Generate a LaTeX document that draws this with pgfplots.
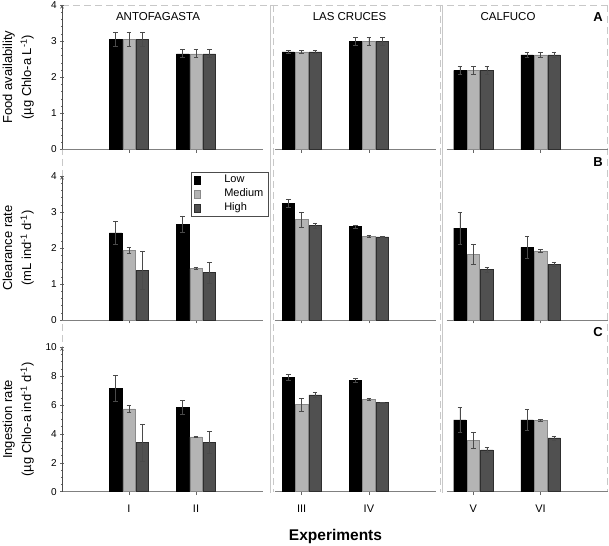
\documentclass[border=0pt]{standalone}
\usepackage{fontspec}
\setmainfont{Liberation Sans}
\usepackage{pgfplots}
\pgfplotsset{compat=1.18}
\definecolor{medc}{HTML}{B4B4B4}
\definecolor{medd}{HTML}{8A8A8A}
\definecolor{highc}{HTML}{505050}
\definecolor{highd}{HTML}{2E2E2E}
\definecolor{errc}{HTML}{4A4A4A}
\definecolor{framec}{HTML}{C8C8C8}
\pgfplotsset{
  base/.style={scale only axis, anchor=south west, axis x line=bottom, axis line style={-},
    x axis line style={black!50, line width=0.6pt},
    xtick={1,2}, xticklabels={}, tick align=outside, major tick length=3.5pt, minor tick length=2pt,
    tick style={black!60, line width=0.5pt},
    /pgf/number format/assume math mode=true,
    tick label style={font=\fontsize{10}{12}\selectfont},
    xticklabel style={font=\fontsize{11}{13}\selectfont, yshift=-6pt},
    clip=false,
    ylabel style={at={(rel axis cs:-0.139,0.5)}, anchor=south, inner sep=0pt, align=center, font=\fontsize{13}{19}\selectfont},
  },
  col1/.style={base, at={(62pt,#1)}, width=201pt, xmin=0, xmax=3, axis y line=left, y axis line style={black!70, line width=0.6pt}},
  col2/.style={base, at={(274.8pt,#1)}, width=161.3pt, xmin=0.6, xmax=3, axis y line=none},
  col3/.style={base, at={(446.5pt,#1)}, width=161.3pt, xmin=0.6, xmax=3, axis y line=none},
  rowA/.style={height=144.5pt, ymin=0, ymax=4, ytick={0,1,2,3,4}, minor y tick num=4},
  rowB/.style={height=144pt, ymin=0, ymax=4, ytick={0,1,2,3,4}, minor y tick num=4},
  rowC/.style={height=144.4pt, ymin=0, ymax=10, ytick={0,2,4,6,8,10}, minor y tick num=3},
  barbase/.style={ybar, bar width=0.185, bar shift=0pt, line width=0.4pt},
  lowbar/.style={barbase, fill=black, draw=black},
  medbar/.style={barbase, fill=medc, draw=medd},
  highbar/.style={barbase, fill=highc, draw=highd},
  errs/.style={error bars/.cd, y dir=both, y explicit,
    error bar style={errc, line width=0.6pt},
    error mark options={rotate=90, mark size=2.3pt, errc, line width=0.6pt}},
}
\begin{document}
\begin{tikzpicture}
\path[use as bounding box] (0,0) rectangle (609pt,545pt);
\begin{scope}[framec, line width=0.8pt, dash pattern=on 7pt off 4pt]
 \draw (62pt,540pt) -- (607pt,540pt);
 \draw (607pt,540pt) -- (607pt,53.3pt);
 \draw (273pt,540pt) -- (273pt,53.3pt);
 \draw (440pt,540pt) -- (440pt,53.3pt);
 \draw (62pt,540pt) -- (62pt,53.3pt);
\end{scope}
\draw[framec, line width=0.8pt] (270.7pt,540pt) -- (270.7pt,52pt);
\draw[framec, line width=0.8pt] (442.7pt,540pt) -- (442.7pt,52pt);

% ---------------- Row A: food availability
\begin{axis}[col1=395.5pt, rowA, ylabel={Food availability\\(µg Chlo-a L\textsuperscript{-1})}]
\addplot[lowbar, errs] coordinates {(0.8,3.05) +- (0,0.19) (1.8,2.65) +- (0,0.11)};
\addplot[medbar, errs] coordinates {(1,3.05) +- (0,0.19) (2,2.65) +- (0,0.11)};
\addplot[highbar, errs] coordinates {(1.2,3.05) +- (0,0.19) (2.2,2.65) +- (0,0.11)};
\end{axis}
\begin{axis}[col2=395.5pt, rowA]
\addplot[lowbar, errs] coordinates {(0.8,2.70) +- (0,0.04) (1.8,3.00) +- (0,0.11)};
\addplot[medbar, errs] coordinates {(1,2.70) +- (0,0.04) (2,3.00) +- (0,0.11)};
\addplot[highbar, errs] coordinates {(1.2,2.70) +- (0,0.04) (2.2,3.00) +- (0,0.11)};
\end{axis}
\begin{axis}[col3=395.5pt, rowA]
\addplot[lowbar, errs] coordinates {(0.8,2.19) +- (0,0.11) (1.8,2.62) +- (0,0.08)};
\addplot[medbar, errs] coordinates {(1,2.19) +- (0,0.11) (2,2.62) +- (0,0.08)};
\addplot[highbar, errs] coordinates {(1.2,2.19) +- (0,0.11) (2.2,2.62) +- (0,0.08)};
\end{axis}

% ---------------- Row B: clearance rate
\begin{axis}[col1=225pt, rowB, ylabel={Clearance rate\\(mL ind\textsuperscript{-1} d\textsuperscript{-1})},
  legend style={at={(0.64,1.03)}, anchor=north west, draw=black!70, line width=0.5pt,
    font=\fontsize{11}{12}\selectfont, inner xsep=3pt, inner ysep=1.5pt, row sep=0.5pt,
    /tikz/every odd column/.append style={column sep=22pt}},
  legend cell align=left,
  legend image code/.code={\draw[#1] (0pt,-4pt) rectangle (6pt,4pt);}]
\addplot[lowbar, errs] coordinates {(0.8,2.42) +- (0,0.31) (1.8,2.66) +- (0,0.23)};
\addlegendentry{Low}
\addplot[medbar, errs] coordinates {(1,1.94) +- (0,0.08) (2,1.43) +- (0,0.02)};
\addlegendentry{Medium}
\addplot[highbar, errs] coordinates {(1.2,1.38) +- (0,0.53) (2.2,1.32) +- (0,0.29)};
\addlegendentry{High}
\end{axis}
\begin{axis}[col2=225pt, rowB]
\addplot[lowbar, errs] coordinates {(0.8,3.24) +- (0,0.10) (1.8,2.60) +- (0,0.04)};
\addplot[medbar, errs] coordinates {(1,2.79) +- (0,0.21) (2,2.33) +- (0,0.03)};
\addplot[highbar, errs] coordinates {(1.2,2.62) +- (0,0.07) (2.2,2.31) +- (0,0.01)};
\end{axis}
\begin{axis}[col3=225pt, rowB]
\addplot[lowbar, errs] coordinates {(0.8,2.55) +- (0,0.45) (1.8,2.02) +- (0,0.30)};
\addplot[medbar, errs] coordinates {(1,1.82) +- (0,0.27) (2,1.92) +- (0,0.03)};
\addplot[highbar, errs] coordinates {(1.2,1.40) +- (0,0.07) (2.2,1.55) +- (0,0.06)};
\end{axis}

% ---------------- Row C: ingestion rate
\begin{axis}[col1=53.3pt, rowC, xticklabels={I,II}, ylabel={Ingestion rate\\(µg Chlo-a ind\textsuperscript{-1} d\textsuperscript{-1})}]
\addplot[lowbar, errs] coordinates {(0.8,7.16) +- (0,0.92) (1.8,5.84) +- (0,0.49)};
\addplot[medbar, errs] coordinates {(1,5.73) +- (0,0.25) (2,3.80) +- (0,0.03)};
\addplot[highbar, errs] coordinates {(1.2,3.40) +- (0,1.30) (2.2,3.42) +- (0,0.75)};
\end{axis}
\begin{axis}[col2=53.3pt, rowC, xticklabels={III,IV}]
\addplot[lowbar, errs] coordinates {(0.8,7.92) +- (0,0.23) (1.8,7.71) +- (0,0.14)};
\addplot[medbar, errs] coordinates {(1,6.03) +- (0,0.44) (2,6.40) +- (0,0.08)};
\addplot[highbar, errs] coordinates {(1.2,6.70) +- (0,0.18) (2.2,6.17) +- (0,0.02)};
\end{axis}
\begin{axis}[col3=53.3pt, rowC, xticklabels={V,VI}]
\addplot[lowbar, errs] coordinates {(0.8,4.97) +- (0,0.85) (1.8,4.97) +- (0,0.73)};
\addplot[medbar, errs] coordinates {(1,3.58) +- (0,0.54) (2,4.94) +- (0,0.07)};
\addplot[highbar, errs] coordinates {(1.2,2.89) +- (0,0.16) (2.2,3.72) +- (0,0.15)};
\end{axis}

% ---------------- titles and panel letters
\node[font=\fontsize{11.5}{13}\selectfont] at (158pt,528pt) {ANTOFAGASTA};
\node[font=\fontsize{11.5}{13}\selectfont] at (349.5pt,528pt) {LAS CRUCES};
\node[font=\fontsize{11.5}{13}\selectfont] at (508pt,528pt) {CALFUCO};
\node[font=\fontsize{13}{15}\selectfont\bfseries] at (598pt,528pt) {A};
\node[font=\fontsize{13}{15}\selectfont\bfseries] at (598pt,383pt) {B};
\node[font=\fontsize{13}{15}\selectfont\bfseries] at (598pt,213pt) {C};
\node[font=\fontsize{15.5}{17}\selectfont\bfseries] at (335.5pt,9pt) {Experiments};
\end{tikzpicture}
\end{document}
